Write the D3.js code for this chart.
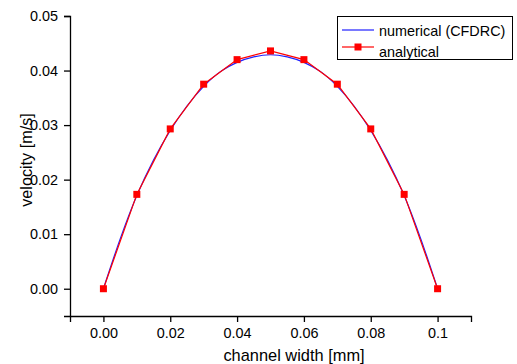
<!DOCTYPE html>
<html>
<head>
<meta charset="utf-8">
<script src="https://d3js.org/d3.v7.min.js"></script>
<style>
  body { margin: 0; background: #fff; }
  svg text { font-family: "Liberation Sans", Arial, sans-serif; fill: #000; }
</style>
</head>
<body>
<div id="chart"></div>
<script>
// analytical solution, sampled every 0.01 mm
var analyticalX = [0, 0.01, 0.02, 0.03, 0.04, 0.05, 0.06, 0.07, 0.08, 0.09, 0.1];
var analyticalY = [0, 0.0173, 0.0293, 0.0375, 0.0420, 0.0436, 0.0420, 0.0375, 0.0293, 0.0173, 0];

// numerical (CFDRC) profile, finer sampling
var numericalX = [0, 0.005, 0.01, 0.015, 0.02, 0.025, 0.03, 0.035, 0.04, 0.045, 0.05,
                  0.055, 0.06, 0.065, 0.07, 0.075, 0.08, 0.085, 0.09, 0.095, 0.1];
var numericalY = [0, 0.0091, 0.0171, 0.0236, 0.0290, 0.0335, 0.0371, 0.0398, 0.0415, 0.0425, 0.0429,
                  0.0425, 0.0415, 0.0398, 0.0371, 0.0335, 0.0290, 0.0236, 0.0171, 0.0091, 0];

var xTicks = [0, 0.02, 0.04, 0.06, 0.08, 0.1];
var xTickLabels = ["0.00", "0.02", "0.04", "0.06", "0.08", "0.1"];
var yTicks = [0, 0.01, 0.02, 0.03, 0.04, 0.05];
var seriesNames = ["numerical (CFDRC)", "analytical"];

var width = 517, height = 364;
var plotLeft = 70, plotRight = 471, plotTop = 16, plotBottom = 316;

var svg = d3.select("#chart").append("svg")
    .attr("width", width)
    .attr("height", height);

var x = d3.scaleLinear().domain([-0.01, 0.11]).range([plotLeft, plotRight]);
var y = d3.scaleLinear().domain([-0.005, 0.05]).range([plotBottom, plotTop]);

// axes: major ticks + minor ticks
var xMinor = d3.range(-0.01, 0.1101, 0.01).map(function(v) { return +v.toFixed(3); });
var yMinor = d3.range(-0.005, 0.0501, 0.005).map(function(v) { return +v.toFixed(4); });

var xAxisG = svg.append("g").attr("transform", "translate(0," + plotBottom + ")");
xAxisG.call(d3.axisBottom(x).tickValues(xMinor).tickSize(4).tickFormat(""));
xAxisG.call(d3.axisBottom(x).tickValues(xTicks).tickSize(6)
    .tickFormat(function(d, i) { return xTickLabels[i]; }));
xAxisG.selectAll("text").attr("font-size", 14.4).attr("dy", "0.9em");

var yAxisG = svg.append("g").attr("transform", "translate(" + plotLeft + ",0)");
yAxisG.call(d3.axisLeft(y).tickValues(yMinor).tickSize(3).tickFormat(""));
yAxisG.call(d3.axisLeft(y).tickValues(yTicks).tickSize(6).tickFormat(d3.format(".2f")));
yAxisG.selectAll("text").attr("font-size", 14.4).attr("x", -12);

svg.selectAll(".domain").attr("stroke", "#000").attr("stroke-width", 1.3);
svg.selectAll(".tick line").attr("stroke", "#000").attr("stroke-width", 1.3);

svg.append("text")
    .attr("x", 294)
    .attr("y", 361)
    .attr("text-anchor", "middle")
    .attr("font-size", 16.4)
    .text("channel width [mm]");

svg.append("text")
    .attr("transform", "translate(32,160) rotate(-90)")
    .attr("text-anchor", "middle")
    .attr("font-size", 16.2)
    .text("velocity [m/s]");

// series
var numerical = numericalX.map(function(d, i) { return [d, numericalY[i]]; });
var analytical = analyticalX.map(function(d, i) { return [d, analyticalY[i]]; });

svg.append("path")
    .datum(numerical)
    .attr("fill", "none")
    .attr("stroke", "#2020ff")
    .attr("stroke-width", 1.2)
    .attr("d", d3.line().x(function(d) { return x(d[0]); }).y(function(d) { return y(d[1]); })
        .curve(d3.curveMonotoneX));

svg.append("path")
    .datum(analytical)
    .attr("fill", "none")
    .attr("stroke", "#ff0000")
    .attr("stroke-width", 1.2)
    .attr("d", d3.line().x(function(d) { return x(d[0]); }).y(function(d) { return y(d[1]); }));

svg.selectAll(".pt")
    .data(analytical)
    .enter().append("rect")
    .attr("class", "pt")
    .attr("x", function(d) { return x(d[0]) - 3.5; })
    .attr("y", function(d) { return y(d[1]) - 3.5; })
    .attr("width", 7)
    .attr("height", 7)
    .attr("fill", "#ff0000");

// legend
var legend = svg.append("g");
legend.append("rect")
    .attr("x", 337.5).attr("y", 16.5)
    .attr("width", 175).attr("height", 43)
    .attr("fill", "#fff").attr("stroke", "#000").attr("stroke-width", 1);
legend.append("line")
    .attr("x1", 342).attr("x2", 374).attr("y1", 30).attr("y2", 30)
    .attr("stroke", "#2020ff").attr("stroke-width", 1.2);
legend.append("text")
    .attr("x", 379).attr("y", 36).attr("font-size", 14.4)
    .text(seriesNames[0]);
legend.append("line")
    .attr("x1", 342).attr("x2", 374).attr("y1", 47).attr("y2", 47)
    .attr("stroke", "#ff0000").attr("stroke-width", 1.2);
legend.append("rect")
    .attr("x", 354.5).attr("y", 43.5).attr("width", 7).attr("height", 7)
    .attr("fill", "#ff0000");
legend.append("text")
    .attr("x", 379).attr("y", 57).attr("font-size", 14.4)
    .text(seriesNames[1]);
</script>
</body>
</html>
